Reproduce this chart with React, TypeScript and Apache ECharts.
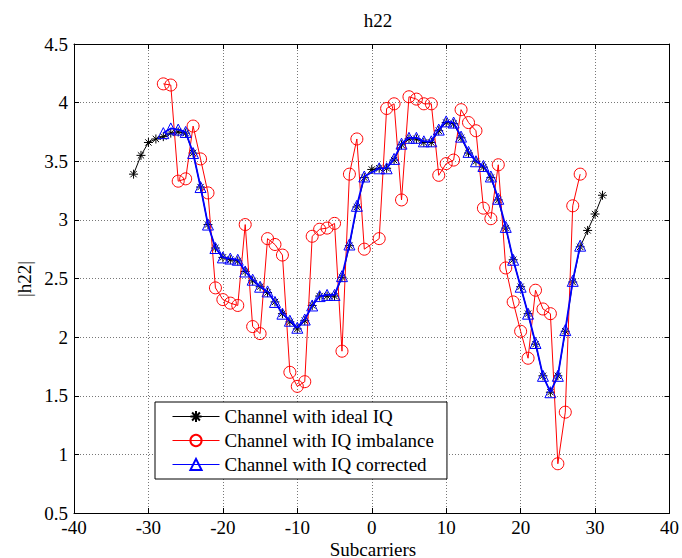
import React, { useEffect, useRef } from "react";
import * as echarts from "echarts";

const xIdeal = [
  -32, -31, -30, -29, -28, -27, -26, -25, -24, -23, -22, -21, -20, -19, -18, -17,
  -16, -15, -14, -13, -12, -11, -10, -9, -8, -7, -6, -5, -4, -3, -2, -1,
  0, 1, 2, 3, 4, 5, 6, 7, 8, 9, 10, 11, 12, 13, 14, 15,
  16, 17, 18, 19, 20, 21, 22, 23, 24, 25, 26, 27, 28, 29, 30, 31,
];
const hIdeal = [
  3.39, 3.55, 3.66, 3.69, 3.71, 3.74, 3.75, 3.74, 3.57, 3.28, 2.96, 2.76, 2.68, 2.66, 2.65, 2.56,
  2.48, 2.43, 2.38, 2.30, 2.20, 2.13, 2.07, 2.14, 2.27, 2.35, 2.35, 2.35, 2.51, 2.78, 3.11, 3.36,
  3.43, 3.44, 3.44, 3.51, 3.64, 3.69, 3.69, 3.66, 3.66, 3.76, 3.83, 3.82, 3.70, 3.57, 3.50, 3.45,
  3.36, 3.17, 2.93, 2.66, 2.43, 2.20, 1.94, 1.67, 1.53, 1.67, 2.05, 2.47, 2.77, 2.91, 3.05, 3.21,
];

const xIQ = [
  -28, -27, -26, -25, -24, -23, -22, -21, -20, -19, -18, -17, -16, -15, -14, -13,
  -12, -11, -10, -9, -8, -7, -6, -5, -4, -3, -2, -1,
  1, 2, 3, 4, 5, 6, 7, 8, 9, 10, 11, 12, 13, 14, 15, 16,
  17, 18, 19, 20, 21, 22, 23, 24, 25, 26, 27, 28,
];
const hImbalance = [
  4.16, 4.15, 3.33, 3.35, 3.80, 3.52, 3.23, 2.42, 2.32, 2.29, 2.27, 2.96, 2.09, 2.03, 2.84, 2.79,
  2.70, 1.70, 1.58, 1.62, 2.86, 2.92, 2.93, 2.97, 1.88, 3.39, 3.69, 2.75,
  2.84, 3.95, 3.99, 3.17, 4.05, 4.03, 3.99, 3.99, 3.38, 3.48, 3.51, 3.94, 3.83, 3.76, 3.10, 3.01,
  3.47, 2.59, 2.30, 2.05, 1.82, 2.40, 2.24, 2.20, 0.92, 1.36, 3.12, 3.39,
];
const hCorrected = [
  3.74, 3.78, 3.77, 3.75, 3.57, 3.28, 2.96, 2.76, 2.68, 2.67, 2.66, 2.56, 2.49, 2.43, 2.39, 2.30,
  2.20, 2.14, 2.08, 2.15, 2.27, 2.35, 2.36, 2.36, 2.52, 2.79, 3.12, 3.37,
  3.44, 3.44, 3.52, 3.65, 3.70, 3.70, 3.67, 3.67, 3.77, 3.84, 3.83, 3.71, 3.58, 3.50, 3.46, 3.37,
  3.18, 2.94, 2.66, 2.43, 2.20, 1.95, 1.67, 1.53, 1.67, 2.06, 2.48, 2.78,
];

const seriesNames = [
  "Channel with ideal IQ",
  "Channel with IQ imbalance",
  "Channel with IQ corrected",
];

const FONT = "Liberation Serif";
const STAR = "path://M5 0L5 10M0 5L10 5M1.5 1.5L8.5 8.5M1.5 8.5L8.5 1.5";

export default function App() {
  const ref = useRef<HTMLDivElement>(null);
  useEffect(() => {
    if (!ref.current) return;
    const chart = echarts.init(ref.current, null, { renderer: "svg" });
    const pairs = (xs: number[], ys: number[]) => xs.map((x, i) => [x, ys[i]]);
    const axisCommon = {
      type: "value" as const,
      axisLine: { show: true, onZero: false, lineStyle: { color: "#000", width: 1 } },
      axisTick: { show: true, inside: true, length: 5, lineStyle: { color: "#000" } },
    };
    chart.setOption({
      animation: false,
      backgroundColor: "#fff",
      title: {
        text: "h22",
        left: 373,
        top: 6,
        textAlign: "center",
        textStyle: { fontFamily: FONT, fontSize: 19, fontWeight: "normal", color: "#000" },
      },
      grid: { left: 74, top: 44, right: 10, bottom: 45, containLabel: false },
      xAxis: [
        {
          ...axisCommon,
          position: "bottom",
          min: -40,
          max: 40,
          interval: 10,
          axisLabel: { fontFamily: FONT, fontSize: 19, color: "#000", margin: 5 },
          splitLine: { show: true, lineStyle: { color: "#777", type: [1, 2], width: 1 } },
        },
        {
          ...axisCommon,
          position: "top",
          min: -40,
          max: 40,
          interval: 10,
          axisLabel: { show: false },
          splitLine: { show: false },
        },
      ],
      yAxis: [
        {
          ...axisCommon,
          position: "left",
          min: 0.5,
          max: 4.5,
          interval: 0.5,
          axisLabel: { fontFamily: FONT, fontSize: 19, color: "#000", margin: 6 },
          splitLine: { show: true, lineStyle: { color: "#777", type: [1, 2], width: 1 } },
        },
        {
          ...axisCommon,
          position: "right",
          min: 0.5,
          max: 4.5,
          interval: 0.5,
          axisLabel: { show: false },
          splitLine: { show: false },
        },
      ],
      legend: {
        orient: "vertical",
        left: 155,
        top: 402,
        itemWidth: 47,
        itemHeight: 14,
        itemGap: 5,
        padding: [5, 13, 5, 17],
        backgroundColor: "#fff",
        borderColor: "#000",
        borderWidth: 1,
        borderRadius: 0,
        lineStyle: { width: 1 },
        textStyle: { fontFamily: FONT, fontSize: 19, color: "#000" },
        data: seriesNames,
      },
      graphic: [
        {
          type: "text",
          x: 373,
          y: 549,
          style: {
            text: "Subcarriers",
            fontFamily: FONT,
            fontSize: 19,
            fill: "#000",
            textAlign: "center",
            textVerticalAlign: "middle",
          },
        },
        {
          type: "text",
          x: 24,
          y: 279,
          rotation: Math.PI / 2,
          style: {
            text: "|h22|",
            fontFamily: FONT,
            fontSize: 19,
            fill: "#000",
            textAlign: "center",
            textVerticalAlign: "middle",
          },
        },
      ],
      series: [
        {
          name: seriesNames[0],
          type: "line",
          data: pairs(xIdeal, hIdeal),
          symbol: STAR,
          symbolSize: 9,
          showAllSymbol: true,
          lineStyle: { color: "#000", width: 1 },
          itemStyle: { color: "none", borderColor: "#000", borderWidth: 1 },
          z: 2,
        },
        {
          name: seriesNames[1],
          type: "line",
          data: pairs(xIQ, hImbalance),
          symbol: "circle",
          symbolSize: 12,
          showAllSymbol: true,
          lineStyle: { color: "#ff0000", width: 1 },
          itemStyle: { color: "rgba(0,0,0,0)", borderColor: "#ff0000", borderWidth: 1 },
          z: 3,
        },
        {
          name: seriesNames[2],
          type: "line",
          data: pairs(xIQ, hCorrected),
          symbol: "triangle",
          symbolSize: 11,
          showAllSymbol: true,
          lineStyle: { color: "#0000ff", width: 1.8 },
          itemStyle: { color: "rgba(0,0,0,0)", borderColor: "#0000ff", borderWidth: 1 },
          z: 4,
        },
      ],
    });
    return () => chart.dispose();
  }, []);
  return <div ref={ref} style={{ width: 682, height: 558, position: "absolute", left: 0, top: 0 }} />;
}
